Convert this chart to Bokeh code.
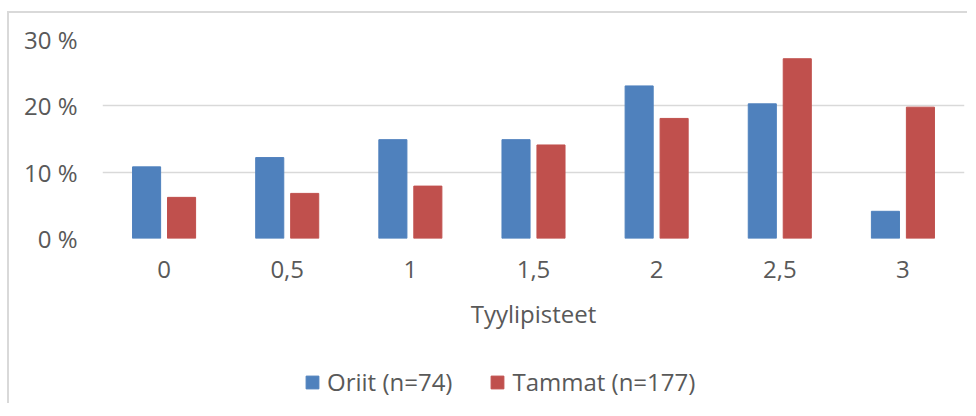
from bokeh.plotting import figure
from bokeh.layouts import column
from bokeh.models import ColumnDataSource, FactorRange, Range1d, Legend, LegendItem, FixedTicker
from bokeh.transform import dodge
from bokeh.embed import file_html
from bokeh.resources import INLINE

categories = ["0", "0,5", "1", "1,5", "2", "2,5", "3"]
oriit = [10.8, 12.2, 14.9, 14.9, 23.0, 20.3, 4.1]
tammat = [6.2, 6.8, 7.9, 14.1, 18.1, 27.1, 19.8]
series_names = ["Oriit (n=74)", "Tammat (n=177)"]
y_ticks = [0, 10, 20, 30]
y_tick_labels = ["0 %", "10 %", "20 %", "30 %"]
x_title = "Tyylipisteet"

BLUE = "#4F81BD"
RED = "#C0504D"
TEXT = "#595959"
GRID = "#d9d9d9"
FONT = "Open Sans"
FS = "24px"

src = ColumnDataSource(dict(cat=categories, oriit=oriit, tammat=tammat))

p = figure(width=958, height=330,
           x_range=FactorRange(*categories, range_padding=0),
           y_range=Range1d(0, 30), output_backend="svg", toolbar_location=None,
           min_border_left=93, min_border_right=3, min_border_top=26, min_border_bottom=105)

r1 = p.vbar(x=dodge("cat", -0.142, range=p.x_range), top="oriit", width=0.228, source=src,
            fill_color=BLUE, line_color=BLUE)
r2 = p.vbar(x=dodge("cat", 0.142, range=p.x_range), top="tammat", width=0.228, source=src,
            fill_color=RED, line_color=RED)

p.outline_line_color = None
p.xgrid.grid_line_color = None
p.ygrid.grid_line_color = GRID
p.ygrid.grid_line_width = 1.5
p.ygrid.level = "underlay"

p.yaxis.ticker = FixedTicker(ticks=y_ticks)
p.yaxis.major_label_overrides = {t: l for t, l in zip(y_ticks, y_tick_labels)}
for ax in (p.xaxis[0], p.yaxis[0]):
    ax.axis_line_color = None
    ax.major_tick_line_color = None
    ax.minor_tick_line_color = None
    ax.major_label_text_font = FONT
    ax.major_label_text_font_size = FS
    ax.major_label_text_color = TEXT
p.yaxis.major_label_standoff = 19
p.xaxis.major_label_standoff = 16
p.xaxis.axis_label = x_title
p.xaxis.axis_label_text_font = FONT
p.xaxis.axis_label_text_font_size = FS
p.xaxis.axis_label_text_font_style = "normal"
p.xaxis.axis_label_text_color = TEXT
p.xaxis.axis_label_standoff = 16

# legend strip (proxy renderers lie outside the visible range; only their legend swatches show)
pl = figure(width=958, height=60, x_range=Range1d(0, 1), y_range=Range1d(0, 1),
            x_axis_type=None, y_axis_type=None, output_backend="svg", toolbar_location=None,
            min_border=0)
pl.outline_line_color = None
pl.grid.grid_line_color = None
l1 = pl.vbar(x=[-5], top=[-5], width=0.1, fill_color=BLUE, line_color=BLUE)
l2 = pl.vbar(x=[-5], top=[-5], width=0.1, fill_color=RED, line_color=RED)
legend = Legend(items=[LegendItem(label=series_names[0], renderers=[l1]),
                       LegendItem(label=series_names[1], renderers=[l2])],
                orientation="horizontal", location=(202, 5),
                label_text_font=FONT, label_text_font_size=FS, label_text_color=TEXT,
                glyph_width=16, glyph_height=16, spacing=37, label_standoff=7,
                border_line_color=None, background_fill_alpha=0, padding=0, margin=0)
pl.add_layout(legend, "center")

layout = column(p, pl, spacing=0)
layout.styles = {"border-top": "2px solid #d9d9d9", "border-left": "2px solid #d9d9d9",
                 "margin-top": "11px", "margin-left": "7px"}

open("out.html", "w").write(file_html(layout, INLINE))
